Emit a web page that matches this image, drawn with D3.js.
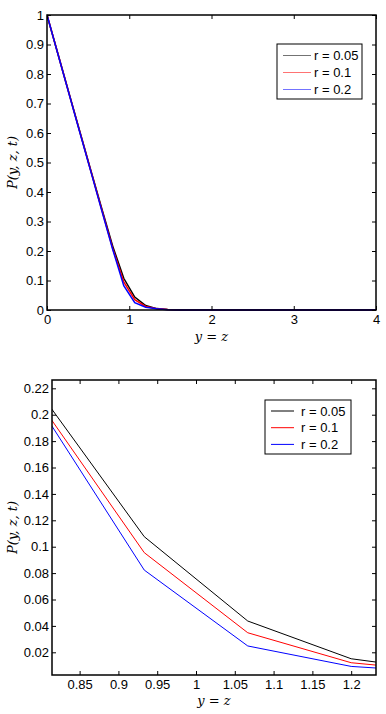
<!DOCTYPE html>
<html>
<head>
<meta charset="utf-8">
<script src="https://cdn.jsdelivr.net/npm/d3@7"></script>
<style>
  body { margin: 0; background: #fff; }
  svg { display: block; }
  .tick text { font-family: Arial, "Liberation Sans", sans-serif; font-size: 13px; fill: #000; }
  .math { font-family: "DejaVu Serif", "Liberation Serif", serif; font-style: italic; font-size: 13px; fill: #000; }
  .leg { font-family: Arial, "Liberation Sans", sans-serif; font-size: 13px; fill: #000; }
</style>
</head>
<body>
<svg width="386" height="714"></svg>
<script>
// grid points y = z (step 2/15)
const gridX = [0, 0.1333, 0.2667, 0.4, 0.5333, 0.6667, 0.8, 0.9333, 1.0667, 1.2,
  1.3333, 1.4667, 1.6, 1.7333, 1.8667, 2, 2.1333, 2.2667, 2.4, 2.5333,
  2.6667, 2.8, 2.9333, 3.0667, 3.2, 3.3333, 3.4667, 3.6, 3.7333, 3.8667, 4];

const p005 = [1, 0.868, 0.736, 0.604, 0.473, 0.343, 0.2157, 0.1076, 0.0437, 0.0151,
  0.0047, 0.0013, 0.0003, 0.0001, 0, 0, 0, 0, 0, 0, 0, 0, 0, 0, 0, 0, 0, 0, 0, 0, 0];
const p01 = [1, 0.868, 0.735, 0.603, 0.471, 0.339, 0.2077, 0.0955, 0.0348, 0.0121,
  0.0046, 0.0013, 0.0003, 0.0001, 0, 0, 0, 0, 0, 0, 0, 0, 0, 0, 0, 0, 0, 0, 0, 0, 0];
const p02 = [1, 0.867, 0.734, 0.601, 0.469, 0.336, 0.2045, 0.0823, 0.0248, 0.0093,
  0.0043, 0.0012, 0.0003, 0.0001, 0, 0, 0, 0, 0, 0, 0, 0, 0, 0, 0, 0, 0, 0, 0, 0, 0];

const seriesNames = ["r = 0.05", "r = 0.1", "r = 0.2"];
const seriesColors = ["#000000", "#ff0000", "#0000ff"];
const seriesValues = [p005, p01, p02];

const topXTicks = [0, 1, 2, 3, 4];
const topYTicks = [0, 0.1, 0.2, 0.3, 0.4, 0.5, 0.6, 0.7, 0.8, 0.9, 1];
const botXTicks = [0.85, 0.9, 0.95, 1, 1.05, 1.1, 1.15, 1.2];
const botYTicks = [0.02, 0.04, 0.06, 0.08, 0.1, 0.12, 0.14, 0.16, 0.18, 0.2, 0.22];

const svg = d3.select("svg");
const fmt = d => String(+d.toFixed(2));

function panel(opt) {
  const { left, right, top, bottom } = opt.box;
  const x = d3.scaleLinear().domain(opt.xDomain).range([left, right]);
  const y = d3.scaleLinear().domain(opt.yDomain).range([bottom, top]);
  const g = svg.append("g");

  // clip for lines
  g.append("clipPath").attr("id", opt.id)
    .append("rect").attr("x", left).attr("y", top - 1)
    .attr("width", right - left).attr("height", bottom - top + 2);

  const line = d3.line().x((d, i) => x(gridX[i])).y(d => y(d));
  g.append("g").attr("clip-path", `url(#${opt.id})`)
    .selectAll("path").data(seriesValues).join("path")
    .attr("d", line)
    .attr("fill", "none")
    .attr("stroke", (d, i) => seriesColors[i])
    .attr("stroke-width", opt.lw);

  // axes, inward ticks on all four sides
  const tl = 4;
  g.append("g").attr("transform", `translate(0,${bottom})`)
    .call(d3.axisBottom(x).tickValues(opt.xTicks).tickSize(-tl).tickPadding(5).tickFormat(fmt));
  g.append("g").attr("transform", `translate(0,${top})`)
    .call(d3.axisTop(x).tickValues(opt.xTicks).tickSize(-tl).tickFormat(""));
  g.append("g").attr("transform", `translate(${left},0)`)
    .call(d3.axisLeft(y).tickValues(opt.yTicks).tickSize(-tl).tickPadding(3).tickFormat(fmt));
  g.append("g").attr("transform", `translate(${right},0)`)
    .call(d3.axisRight(y).tickValues(opt.yTicks).tickSize(-tl).tickFormat(""));
  g.selectAll(".domain").remove();
  g.selectAll(".tick line").attr("stroke", "#000");

  g.append("rect").attr("x", left).attr("y", top)
    .attr("width", right - left).attr("height", bottom - top)
    .attr("fill", "none").attr("stroke", "#000").attr("stroke-width", 1.5);

  // labels
  g.append("text").attr("class", "math")
    .attr("transform", `translate(${opt.yLabelX},${(top + bottom) / 2}) rotate(-90)`)
    .attr("text-anchor", "middle").text("P(y, z, t)");
  g.append("text").attr("class", "math")
    .attr("x", (left + right) / 2).attr("y", opt.xLabelY)
    .attr("text-anchor", "middle").text("y = z");

  // legend
  const L = opt.legend;
  g.append("rect").attr("x", L.x).attr("y", L.y).attr("width", L.w).attr("height", L.h)
    .attr("fill", "#fff").attr("stroke", "#000").attr("stroke-width", 1);
  seriesNames.forEach((name, i) => {
    const yy = L.y + L.first + i * L.step;
    g.append("line").attr("x1", L.x + 6).attr("x2", L.x + 6 + L.len)
      .attr("y1", yy).attr("y2", yy)
      .attr("stroke", seriesColors[i]).attr("stroke-width", 1)
      .attr("stroke-opacity", L.op);
    g.append("text").attr("class", "leg")
      .attr("x", L.x + 8 + L.len + L.gap).attr("y", yy + 4.5).text(name);
  });
}

panel({
  id: "clipTop",
  box: { left: 47, right: 376, top: 15, bottom: 310 },
  xDomain: [0, 4], yDomain: [0, 1],
  xTicks: topXTicks, yTicks: topYTicks,
  lw: 1.5, yLabelX: 17, xLabelY: 341,
  legend: { x: 277, y: 44, w: 85, h: 55, first: 11.5, step: 17, len: 28, gap: 1, op: 0.55 }
});

panel({
  id: "clipBot",
  box: { left: 52, right: 376, top: 380, bottom: 675 },
  xDomain: [0.8144, 1.232], yDomain: [0.0028, 0.2263],
  xTicks: botXTicks, yTicks: botYTicks,
  lw: 1, yLabelX: 17, xLabelY: 705,
  legend: { x: 265, y: 400, w: 86, h: 54, first: 11, step: 16.7, len: 23, gap: 5, op: 1 }
});
</script>
</body>
</html>
